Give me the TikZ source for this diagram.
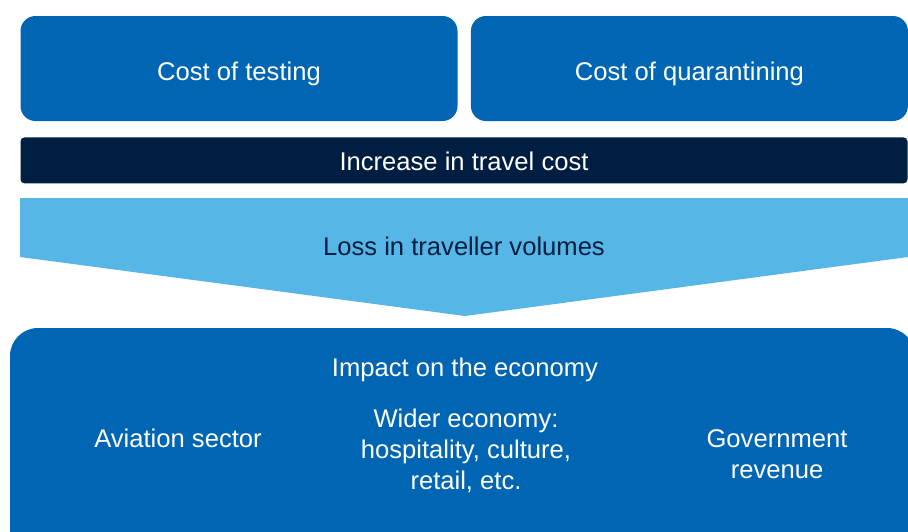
\documentclass[tikz,border=0pt]{standalone}
\usepackage{fontspec}
\setmainfont{Liberation Sans}
\usetikzlibrary{positioning}
\definecolor{costblue}{RGB}{0,102,179}
\definecolor{navy}{RGB}{0,30,66}
\definecolor{skyblue}{RGB}{86,182,230}

\begin{document}
\begin{tikzpicture}[
    x=1pt, y=-1pt,
    font=\fontsize{25.6}{30.6}\selectfont,
    costbox/.style={rectangle, fill=costblue, text=white, rounded corners=15pt, minimum width=437pt, minimum height=105pt, inner sep=0pt, text height=23pt, text depth=0pt},
    barbox/.style={rectangle, fill=navy, text=white, rounded corners=4pt, minimum width=887pt, minimum height=46pt, inner sep=0pt, text height=20pt, text depth=0pt},
    impactbox/.style={rectangle, fill=costblue, rounded corners=28pt, minimum width=905pt, minimum height=272pt, inner sep=0pt},
    impacttext/.style={text=white, align=center, inner sep=0pt, anchor=base}
]
    \useasboundingbox (0,0) rectangle (908,531);
    \clip (0,0) rectangle (908,531);

    \node[costbox] (testing) at (239,68.5) {Cost of testing};
    \node[costbox, right=13pt of testing] (quarantine) {Cost of quarantining};
    \node[barbox, below=16pt of testing.south west, anchor=north west] (travelcost) {Increase in travel cost};

    % Arrow
    \fill[skyblue] (20,198) -- (908,198) -- (908,257) -- (465,316) -- (20,257) -- cycle;
    \node[text=navy, inner sep=0pt, anchor=base] (volumes) at (464,255) {Loss in traveller volumes};

    % Economy
    \node[impactbox] (economy) at (462.5,464) {};
    \node[impacttext] (impact) at (465,376) {Impact on the economy};
    \node[impacttext] (aviation) at (178,447) {Aviation sector};
    \node[impacttext] (wider) at (466,489) {Wider economy:\\hospitality, culture,\\retail, etc.};
    \node[impacttext] (government) at (777,478) {Government\\revenue};
\end{tikzpicture}
\end{document}
